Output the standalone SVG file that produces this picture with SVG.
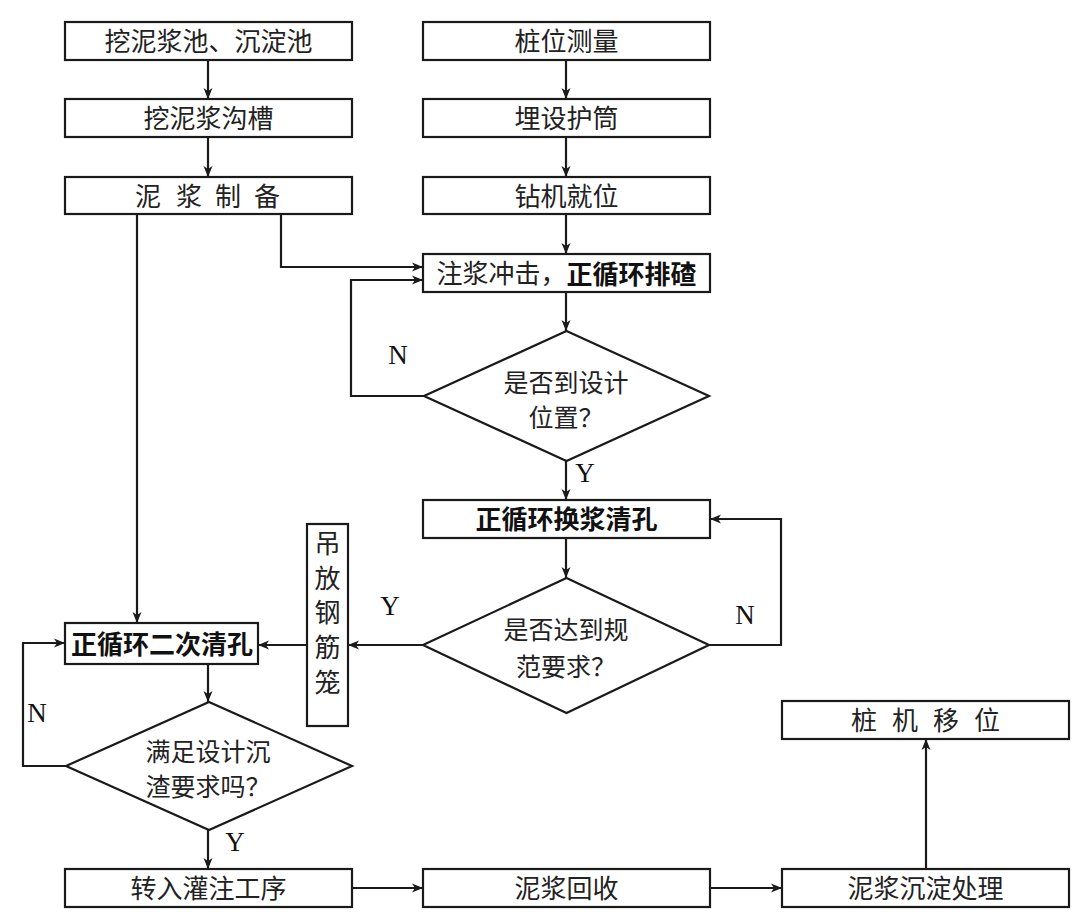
<svg xmlns="http://www.w3.org/2000/svg" width="1080" height="922" viewBox="0 0 1080 922">
<defs>
<marker id="ah" markerUnits="userSpaceOnUse" markerWidth="12" markerHeight="10" refX="11" refY="5" orient="auto">
<path d="M0,0.5 L11,5 L0,9.5 L3,5 Z" fill="#1a1a1a"/>
</marker>
<style>
.b{fill:#fff;stroke:#1a1a1a;stroke-width:2.2}
.t{font-family:"Noto Sans CJK SC","Liberation Serif",sans-serif;font-size:26px;fill:#222;text-anchor:middle;dominant-baseline:central}
.dt{font-size:25px}
.bd{font-weight:bold;fill:#111}
.yn{font-family:"Liberation Serif",serif;font-size:27px;fill:#111;text-anchor:middle;dominant-baseline:central}
.c{fill:none;stroke:#1a1a1a;stroke-width:2.2;marker-end:url(#ah)}
</style>
</defs>
<rect width="1080" height="922" fill="#fff"/>
<g id="n1"><rect class="b" x="65" y="22" width="287" height="38"/><text class="t" x="208.5" y="39.5">挖泥浆池、沉淀池</text></g>
<g id="n2"><rect class="b" x="65" y="99" width="287" height="38"/><text class="t" x="208.5" y="116.5">挖泥浆沟槽</text></g>
<g id="n3"><rect class="b" x="65" y="177" width="287" height="37"/><text class="t" x="148 189 228 267" y="194">泥浆制备</text></g>
<g id="n4"><rect class="b" x="423" y="22" width="287" height="38"/><text class="t" x="566.5" y="39.5">桩位测量</text></g>
<g id="n5"><rect class="b" x="423" y="99" width="287" height="38"/><text class="t" x="566.5" y="116.5">埋设护筒</text></g>
<g id="n6"><rect class="b" x="423" y="177" width="287" height="37"/><text class="t" x="566.5" y="194">钻机就位</text></g>
<g id="n7"><rect class="b" x="423" y="254" width="287" height="38"/><text class="t" x="566.5" y="271.5">注浆冲击，<tspan class="bd">正循环排碴</tspan></text></g>
<g id="d1"><polygon class="b" points="566.5,331 709,396 566.5,461 424,396"/><text class="t dt" x="566" y="381">是否到设计</text><text class="t dt" x="566" y="416">位置？</text></g>
<g id="n8"><rect class="b" x="423" y="500" width="287" height="38"/><text class="t bd" x="566.5" y="517.5">正循环换浆清孔</text></g>
<g id="d2"><polygon class="b" points="566.5,578 709,645 566.5,713 423,645"/><text class="t dt" x="566" y="628">是否达到规</text><text class="t dt" x="566" y="665">范要求？</text></g>
<g id="n9"><rect class="b" x="307" y="524" width="41" height="202"/><text class="t" x="327.5" y="541">吊</text><text class="t" x="327.5" y="576">放</text><text class="t" x="327.5" y="610">钢</text><text class="t" x="327.5" y="645">筋</text><text class="t" x="327.5" y="680">笼</text></g>
<g id="n10"><rect class="b" x="65" y="623" width="193" height="41"/><text class="t bd" x="162" y="642">正循环二次清孔</text></g>
<g id="d3"><polygon class="b" points="209,702 352,766 209,830 66,766"/><text class="t dt" x="208" y="750">满足设计沉</text><text class="t dt" x="208" y="785">渣要求吗？</text></g>
<g id="n11"><rect class="b" x="65" y="869" width="287" height="38"/><text class="t" x="208.5" y="886.5">转入灌注工序</text></g>
<g id="n12"><rect class="b" x="423" y="869" width="287" height="38"/><text class="t" x="566.5" y="886.5">泥浆回收</text></g>
<g id="n13"><rect class="b" x="782" y="869" width="287" height="38"/><text class="t" x="925.5" y="886.5">泥浆沉淀处理</text></g>
<g id="n14"><rect class="b" x="782" y="701" width="287" height="38"/><text class="t" x="864 905 946 987" y="718.5">桩机移位</text></g>
<g id="connectors">
<path class="c" d="M208,60 V99"/>
<path class="c" d="M208,137 V177"/>
<path class="c" d="M566,60 V99"/>
<path class="c" d="M566,137 V177"/>
<path class="c" d="M566,214 V254"/>
<path class="c" d="M281,214 V267 H423"/>
<path class="c" d="M137,214 V623"/>
<path class="c" d="M566,292 V331"/>
<path class="c" d="M424,396 H351 V280 H423"/>
<path class="c" d="M566,461 V500"/>
<path class="c" d="M566,538 V578"/>
<path class="c" d="M709,645 H781 V519 H710"/>
<path class="c" d="M423,645 H348"/>
<path class="c" d="M307,645 H258"/>
<path class="c" d="M208,664 V702"/>
<path class="c" d="M66,766 H23 V643 H65"/>
<path class="c" d="M208,830 V869"/>
<path class="c" d="M352,888 H423"/>
<path class="c" d="M710,888 H782"/>
<path class="c" d="M926,869 V739"/>
<text class="yn" x="398" y="355">N</text>
<text class="yn" x="585" y="473">Y</text>
<text class="yn" x="390" y="606">Y</text>
<text class="yn" x="745" y="615">N</text>
<text class="yn" x="37" y="713">N</text>
<text class="yn" x="235" y="842">Y</text>
</g>
</svg>
